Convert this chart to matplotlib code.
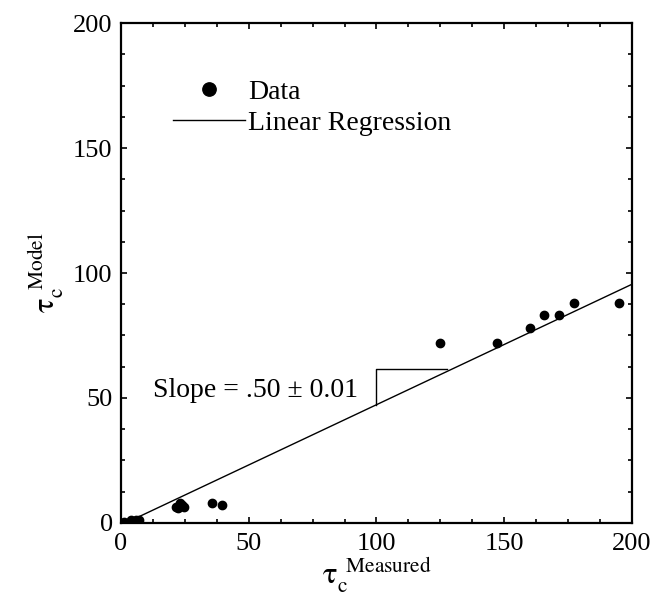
import numpy as np
import matplotlib
matplotlib.use('Agg')
import matplotlib.pyplot as plt
from matplotlib.ticker import MultipleLocator

plt.rcParams['font.family'] = ['Liberation Serif', 'DejaVu Serif']
plt.rcParams['mathtext.fontset'] = 'stix'

# measured vs model tau_c
tau_measured = [1, 4, 6, 7, 21.5, 22.5, 23, 24, 24.5, 35.5, 39.5,
                125, 147, 160, 165.5, 171.5, 177.5, 195]
tau_model = [0.5, 1, 1, 1, 6.5, 6, 8, 7, 6.5, 8, 7,
             72, 72, 78, 83, 83, 88, 88]

# regression line end points
reg_x = [7, 200]
reg_y = [2.5, 95.5]

# slope triangle
tri_x = [100, 100, 127.5]
tri_y = [47.3, 61.5, 61.5]

fig = plt.figure(figsize=(6.53, 6.06), dpi=100)
ax = fig.add_axes([0.1853, 0.137, 0.7825, 0.825])

ax.plot(tau_measured, tau_model, 'o', color='black', ms=6, label='Data')
ax.plot(reg_x, reg_y, '-', color='black', lw=1.0, label='Linear Regression')
ax.plot(tri_x, tri_y, '-', color='black', lw=1.0)

ax.text(12.5, 53, 'Slope = .50 \u00b1 0.01', fontsize=20, va='center', ha='left')

ax.set_xlim(0, 200)
ax.set_ylim(0, 200)
ax.xaxis.set_major_locator(MultipleLocator(50))
ax.yaxis.set_major_locator(MultipleLocator(50))
ax.xaxis.set_minor_locator(MultipleLocator(12.5))
ax.yaxis.set_minor_locator(MultipleLocator(12.5))
ax.tick_params(which='both', direction='in', top=True, right=True, width=1.2)
ax.tick_params(which='major', length=4.5, labelsize=19)
ax.tick_params(which='minor', length=3)
ax.tick_params(axis='x', pad=7)
ax.tick_params(axis='y', pad=6)
for s in ax.spines.values():
    s.set_linewidth(1.6)

ax.set_xlabel(r'$\mathrm{\tau}_{\mathrm{c}}^{\;\;\mathrm{Measured}}$', fontsize=22, labelpad=0)
ax.set_ylabel(r'$\mathrm{\tau}_{\mathrm{c}}^{\;\;\mathrm{Model}}$', fontsize=22, labelpad=6)

ax.legend(loc='upper left', bbox_to_anchor=(0.08, 0.91), frameon=False,
          fontsize=20, handlelength=2.6, handletextpad=0.1, labelspacing=0.2,
          markerscale=1.6, borderaxespad=0)

fig.savefig('out.png', dpi=100)
